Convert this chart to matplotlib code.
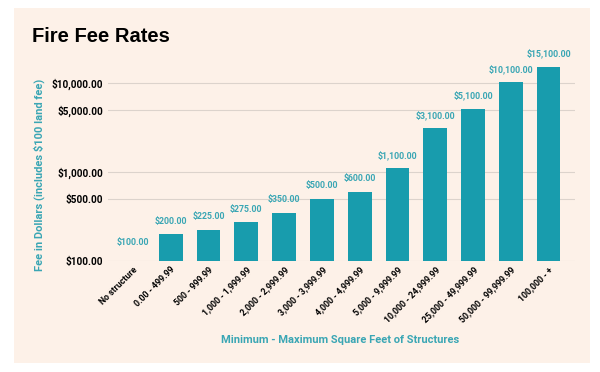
import matplotlib.pyplot as plt
from matplotlib.patches import Rectangle
from matplotlib.ticker import FixedLocator, NullLocator


BG_COLOR    = '#fdf1e8'
BAR_COLOR   = '#189cad'
LABEL_COLOR = '#3aa6b4'
GRID_COLOR  = '#dcd3cc'


categories = ['No structure', '0.00 - 499.99', '500 - 999.99', '1,000 - 1,999.99',
              '2,000 - 2,999.99', '3,000 - 3,999.99', '4,000 - 4,999.99',
              '5,000 - 9,999.99', '10,000 - 24,999.99', '25,000 - 49,999.99',
              '50,000 - 99,999.99', '100,000 - +']
fees = [100, 200, 225, 275, 350, 500, 600, 1100, 3100, 5100, 10100, 15100]
yticks = [100, 500, 1000, 5000, 10000]


fig = plt.figure(figsize=(6, 3.72), dpi=100)
fig.patch.set_facecolor('white')
# peach panel behind everything
fig.patches.append(Rectangle((14 / 600, 1 - 363 / 372), 576 / 600, 355 / 372,
                             transform=fig.transFigure, facecolor=BG_COLOR,
                             edgecolor='none', zorder=-10))

ax = fig.add_axes([108 / 600, 1 - 261 / 372, 467 / 600, 205 / 372])
ax.set_zorder(1)
ax.patch.set_alpha(0)

x = list(range(len(categories)))
ax.bar(x, [f - 100 for f in fees], bottom=100, width=0.63, color=BAR_COLOR, zorder=3)
ax.set_yscale('log')
ax.set_ylim(100, 20000)
ax.set_xlim(-0.66, 11.7)

ax.yaxis.set_major_locator(FixedLocator(yticks))
ax.yaxis.set_minor_locator(NullLocator())
ax.set_yticks(yticks)
ax.set_yticklabels(['${:,.2f}'.format(v) for v in yticks],
                   fontsize=7.2, fontweight='bold', family='Roboto')
ax.grid(axis='y', color=GRID_COLOR, linewidth=0.8, zorder=0)
ax.tick_params(axis='y', length=0, pad=3.5)
ax.tick_params(axis='x', length=0, pad=3)

ax.set_xticks(x)
ax.set_xticklabels(categories, rotation=45, ha='right', rotation_mode='anchor',
                   fontsize=6.3, fontweight='bold', family='Roboto')

for s in ax.spines.values():
    s.set_visible(False)

for xi, f in zip(x, fees):
    ax.annotate('${:,.2f}'.format(f), (xi, f), xytext=(0, 6 if f > 100 else 10),
                textcoords='offset points', ha='center', va='bottom',
                fontsize=6.3, fontweight='bold', color=LABEL_COLOR, family='Roboto')

fig.text(32 / 600, 1 - 37 / 372, 'Fire Fee Rates', fontsize=14.5, fontweight='bold',
         family='Liberation Sans', va='center', ha='left')
fig.text(39 / 600, 1 - 175 / 372, 'Fee in Dollars (includes $100 land fee)',
         rotation=90, fontsize=8, color=LABEL_COLOR, family='Roboto',
         fontweight='bold', ha='center', va='center')
fig.text(340 / 600, 1 - 340 / 372, 'Minimum - Maximum Square Feet of Structures',
         fontsize=8, color=LABEL_COLOR, family='Roboto', fontweight='bold',
         ha='center', va='center')

fig.savefig('out.png', dpi=100, facecolor=fig.get_facecolor())
